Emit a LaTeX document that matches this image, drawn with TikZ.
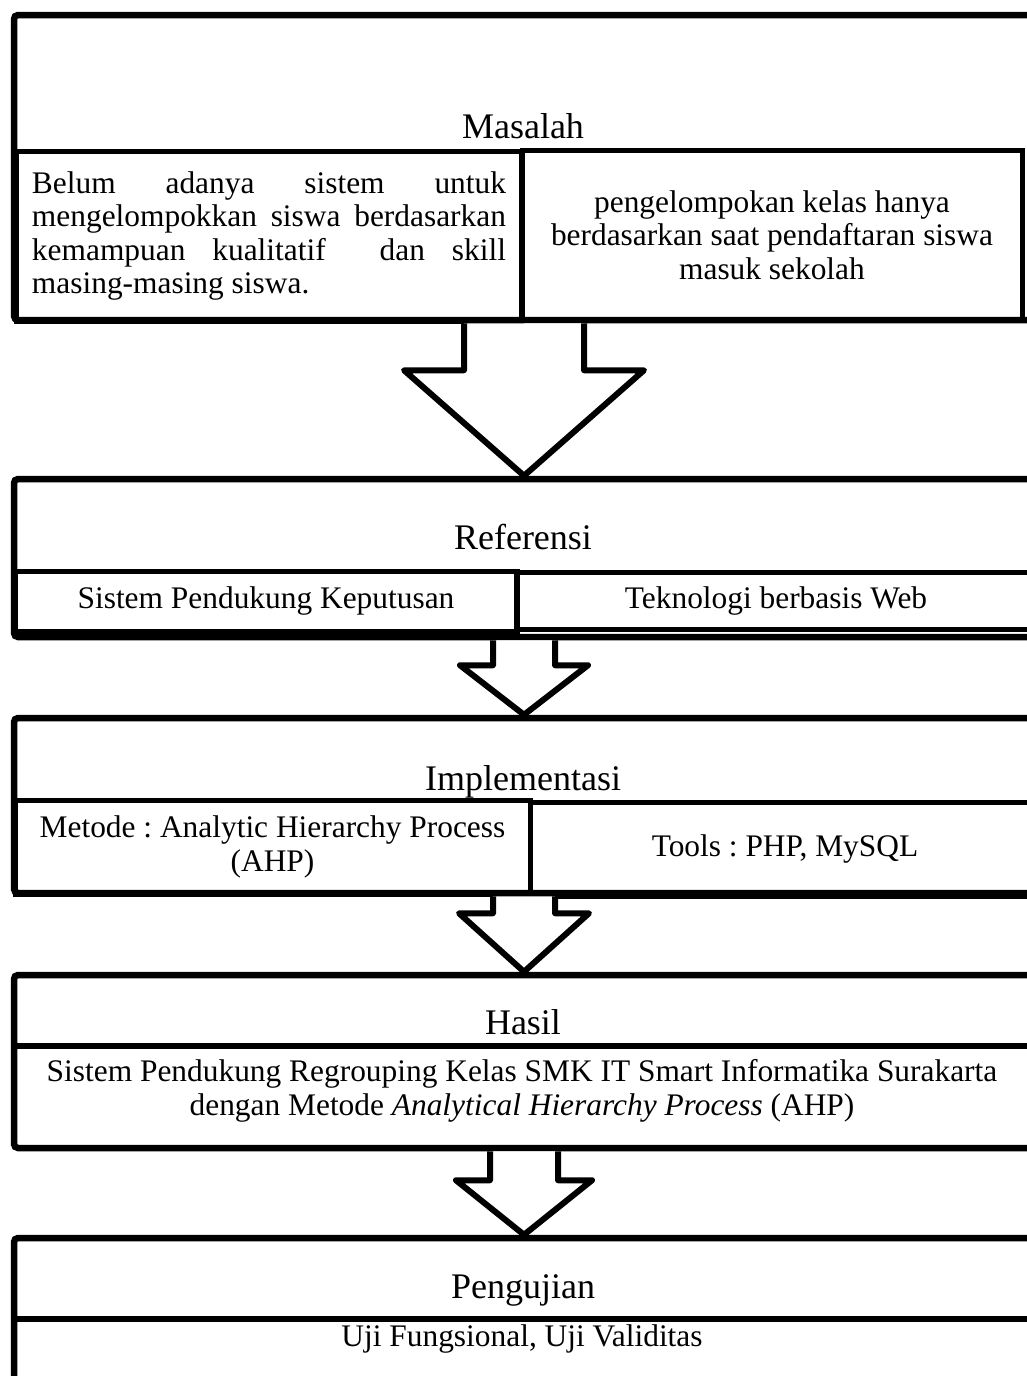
\documentclass[tikz,border=0pt]{standalone}
\usepackage{fontspec}
\setmainfont{Liberation Serif}
\frenchspacing
\usetikzlibrary{
    calc
}

\begin{document}
\begin{tikzpicture}[
    x=0.5pt, y=-0.5pt,
    panel/.style={draw, line width=3.25pt, rounded corners=2pt, fill=white, minimum width=510pt},
    cell/.style={draw, line width=2.5pt, align=center, inner sep=0pt, font=\fontsize{15.7}{16.75}\selectfont},
    heading/.style={anchor=base, font=\fontsize{18}{20}\selectfont},
    body/.style={align=center, font=\fontsize{15.7}{17}\selectfont},
    divider/.style={line width=2.75pt},
    blockarrow/.style={draw, fill=white, line width=3pt, line join=round}
]
    % Canvas
    \path[use as bounding box, clip] (0,0) rectangle (1027,1376);
    \fill[white] (0,0) rectangle (1027,1376);

    % Masalah
    \node[panel, minimum height=152.5pt] (masalah) at (524,167.5) {};
    \node[heading] (masalahT) at (523,138) {Masalah};
    \node[cell, minimum width=252.5pt, minimum height=85pt, text width=237pt, align=justify] (masalahL) at (269,236) {
        Belum adanya sistem untuk\linebreak
        mengelompokkan siswa berdasarkan\linebreak
        kemampuan kualitatif \ dan skill\linebreak
        masing-masing siswa.
    };
    \node[cell, minimum width=250pt, minimum height=85pt] (masalahR) at (772,235) {
        pengelompokan kelas hanya\\
        berdasarkan saat pendaftaran siswa\\
        masuk sekolah
    };

    % Referensi
    \node[panel, minimum height=79pt] (referensi) at (524,558) {};
    \node[heading] (referensiT) at (523,549) {Referensi};
    \node[cell, minimum width=251pt, minimum height=30pt] (referensiL) at (266,601) {Sistem Pendukung Keputusan};
    \node[cell, minimum width=260pt, minimum height=28.5pt] (referensiR) at (776,600.5) {Teknologi berbasis Web};

    % Implementasi
    \node[panel, minimum height=87.5pt] (implementasi) at (524,805.5) {};
    \node[heading] (implementasiT) at (523,790) {Implementasi};
    \node[cell, minimum width=257.5pt, minimum height=47pt] (implementasiL) at (272.5,847) {
        Metode : Analytic Hierarchy Process\\
        (AHP)
    };
    \node[cell, minimum width=255pt, minimum height=47pt] (implementasiR) at (785,849) {Tools : PHP, MySQL};

    % Hasil
    \node[panel, minimum height=86.5pt] (hasil) at (524,1061.5) {};
    \node[heading] (hasilT) at (523,1034) {Hasil};
    \node[body] (hasilTxt) at (522,1091) {
        Sistem Pendukung Regrouping Kelas SMK IT Smart Informatika Surakarta\\
        dengan Metode \textit{Analytical Hierarchy Process} (AHP)
    };
    \draw[divider] ($(hasil.north west)+(0,74)$) -- ($(hasil.north east)+(0,74)$);

    % Pengujian
    \node[panel, minimum height=85pt] (pengujian) at (524,1323) {};
    \node[heading] (pengujianT) at (523,1298) {Pengujian};
    \node[body, anchor=base] (pengujianTxt) at (522,1346) {Uji Fungsional, Uji Validitas};
    \draw[divider] ($(pengujian.north west)+(0,84)$) -- ($(pengujian.north east)+(0,84)$);

    % Arrows
    \draw[blockarrow] ($(masalah.south)+(-60,0)$) -- ++(0,47) -- ++(-60,0)
        -- (referensi.north) -- ($(masalah.south)+(120,47)$) -- ++(-60,0) -- ++(0,-47);
    \draw[blockarrow] ($(referensi.south)+(-31,0)$) -- ++(0,25) -- ++(-33,0)
        -- (implementasi.north) -- ($(referensi.south)+(64,25)$) -- ++(-33,0) -- ++(0,-25);
    \draw[blockarrow] ($(implementasi.south)+(-31,0)$) -- ++(0,17) -- ++(-34,0)
        -- (hasil.north) -- ($(implementasi.south)+(65,17)$) -- ++(-34,0) -- ++(0,-17);
    \draw[blockarrow] ($(hasil.south)+(-34,0)$) -- ++(0,29) -- ++(-34,0)
        -- (pengujian.north) -- ($(hasil.south)+(68,29)$) -- ++(-34,0) -- ++(0,-29);
\end{tikzpicture}
\end{document}
